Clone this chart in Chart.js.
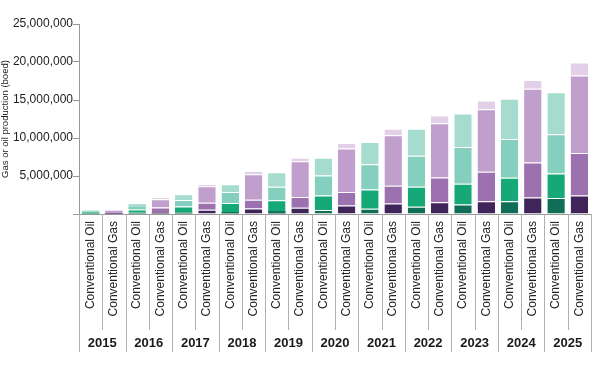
<!DOCTYPE html>
<html>
<head>
<meta charset="utf-8">
<script src="https://cdn.jsdelivr.net/npm/chart.js@4"></script>
<style>
  body { margin: 0; background: #fff; }
</style>
</head>
<body>
<canvas id="chart" width="602" height="375"></canvas>
<script>
// Conventional oil and gas production by year (boed), four stacked segments each
const years = ['2015', '2016', '2017', '2018', '2019', '2020', '2021', '2022', '2023', '2024', '2025'];
const fuels = ['Conventional Oil', 'Conventional Gas'];
const yTicks = [0, 5000000, 10000000, 15000000, 20000000, 25000000];

// oil segments, bottom to top
const oilSeg1 = [50000, 150000, 200000, 260000, 390000, 520000, 690000, 950000, 1260000, 1690000, 2120000];
const oilSeg2 = [150000, 450000, 800000, 1200000, 1430000, 1900000, 2520000, 2650000, 2730000, 3080000, 3210000];
const oilSeg3 = [150000, 400000, 850000, 1430000, 1780000, 2640000, 3320000, 4060000, 4810000, 5100000, 5160000];
const oilSeg4 = [100000, 300000, 750000, 1040000, 1900000, 2340000, 2950000, 3550000, 4420000, 5290000, 5530000];

// gas segments, bottom to top
const gasSeg1 = [20000, 200000, 560000, 730000, 820000, 1130000, 1390000, 1560000, 1690000, 2170000, 2430000];
const gasSeg2 = [150000, 650000, 910000, 1130000, 1430000, 1770000, 2340000, 3250000, 3860000, 4620000, 5580000];
const gasSeg3 = [250000, 1100000, 2170000, 3380000, 4680000, 5710000, 6620000, 7140000, 8230000, 9700000, 10200000];
const gasSeg4 = [30000, 150000, 170000, 300000, 480000, 740000, 860000, 1000000, 1170000, 1130000, 1740000];

const oilColors = ['#0f6e55', '#17a878', '#84cfbd', '#a5dccd'];
const gasColors = ['#40255a', '#9d70af', '#c19fcc', '#e1d0e7'];

const FONT = '"Liberation Sans", Arial, sans-serif';

// one label per bar: oil then gas for every year
const categories = [];
years.forEach(() => fuels.forEach(f => categories.push(f)));

// spread a per-year series onto oil (0) or gas (1) slots
function spread(values, slot) {
    const out = [];
    values.forEach(v => {
        out.push(slot === 0 ? v : null);
        out.push(slot === 1 ? v : null);
    });
    return out;
}

const oilSegs = [oilSeg1, oilSeg2, oilSeg3, oilSeg4];
const gasSegs = [gasSeg1, gasSeg2, gasSeg3, gasSeg4];

const datasets = [];
oilSegs.forEach((s, i) => datasets.push({
    label: 'Oil ' + (i + 1),
    data: spread(s, 0),
    backgroundColor: oilColors[i],
}));
gasSegs.forEach((s, i) => datasets.push({
    label: 'Gas ' + (i + 1),
    data: spread(s, 1),
    backgroundColor: gasColors[i],
}));
datasets.forEach(d => {
    d.borderColor = 'rgba(255,255,255,0.6)';
    // thin separators, skipped on slivers so small bars stay visible
    d.borderWidth = (c) => (c.raw > 400000 ? { top: 1 } : 0);
    d.borderSkipped = false;
    d.barPercentage = 0.75;
    d.categoryPercentage = 1;
});

// category separators and year labels under the x axis
const yearGroups = {
    id: 'yearGroups',
    afterDraw(chart) {
        const { ctx } = chart;
        const x = chart.scales.x;
        const step = x.width / categories.length;
        ctx.save();
        ctx.strokeStyle = '#b0b0b0';
        ctx.lineWidth = 1;
        for (let i = 0; i <= categories.length; i++) {
            const px = Math.round(x.left + i * step) + 0.5;
            ctx.beginPath();
            ctx.moveTo(px, x.top);
            ctx.lineTo(px, x.top + (i % 2 === 0 ? 138 : 116));
            ctx.stroke();
        }
        ctx.font = 'bold 13px ' + FONT;
        ctx.fillStyle = '#1a1a1a';
        ctx.textAlign = 'center';
        ctx.textBaseline = 'middle';
        years.forEach((yr, j) => {
            ctx.fillText(yr, x.left + (2 * j + 1) * step, x.top + 129);
        });
        ctx.restore();
    }
};

new Chart(document.getElementById('chart'), {
    type: 'bar',
    data: { labels: categories, datasets },
    options: {
        responsive: false,
        animation: false,
        layout: { padding: { top: 24, right: 11, bottom: 0, left: 0 } },
        scales: {
            x: {
                stacked: true,
                afterFit(scale) { scale.height = 161; },
                grid: { display: true, drawOnChartArea: false, drawTicks: false },
                border: { color: '#999' },
                ticks: {
                    autoSkip: false,
                    maxRotation: 90,
                    minRotation: 90,
                    padding: 7,
                    color: '#222',
                    font: { family: FONT, size: 12 }
                }
            },
            y: {
                stacked: true,
                min: 0,
                max: 25000000,
                afterFit(scale) { scale.width = 79; },
                afterBuildTicks(scale) { scale.ticks = yTicks.map(v => ({ value: v })); },
                grid: { drawOnChartArea: false, drawTicks: true, tickLength: 6, color: '#999' },
                border: { color: '#999' },
                ticks: {
                    padding: 0,
                    color: '#222',
                    font: { family: FONT, size: 12 },
                    callback: (v) => v === 0 ? '' : v.toLocaleString('en-US')
                },
                title: {
                    display: true,
                    text: 'Gas or oil production (boed)',
                    color: '#222',
                    font: { family: FONT, size: 9.5 },
                    padding: { top: 0, bottom: 0 }
                }
            }
        },
        plugins: {
            legend: { display: false },
            tooltip: { enabled: false }
        }
    },
    plugins: [yearGroups]
});
</script>
</body>
</html>
